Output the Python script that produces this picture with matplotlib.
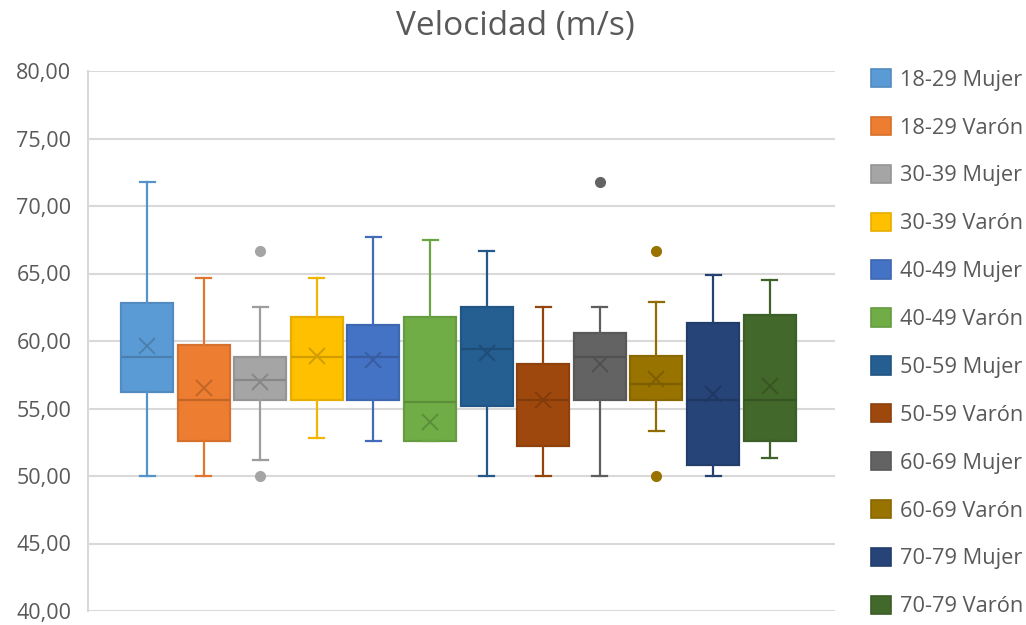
import matplotlib
matplotlib.use("Agg")
import matplotlib.pyplot as plt
from matplotlib.patches import Patch
from matplotlib.colors import to_rgb
from matplotlib.ticker import FuncFormatter, MultipleLocator

# Speed statistics per age group and sex
groups = ["18-29 Mujer", "18-29 Varón", "30-39 Mujer", "30-39 Varón",
          "40-49 Mujer", "40-49 Varón", "50-59 Mujer", "50-59 Varón",
          "60-69 Mujer", "60-69 Varón", "70-79 Mujer", "70-79 Varón"]
whisker_low = [50.0, 50.0, 51.2, 52.8, 52.6, 52.6, 50.0, 50.0, 50.0, 53.3, 50.0, 51.3]
q1 = [56.2, 52.6, 55.6, 55.6, 55.6, 52.6, 55.2, 52.2, 55.6, 55.6, 50.8, 52.6]
median = [58.8, 55.6, 57.1, 58.8, 58.8, 55.5, 59.4, 55.6, 58.8, 56.8, 55.6, 55.6]
q3 = [62.8, 59.7, 58.8, 61.8, 61.2, 61.8, 62.5, 58.3, 60.6, 58.9, 61.3, 61.9]
whisker_high = [71.8, 64.7, 62.5, 64.7, 67.7, 67.5, 66.7, 62.5, 62.5, 62.9, 64.9, 64.5]
means = [59.6, 56.5, 57.0, 58.9, 58.6, 54.0, 59.1, 55.6, 58.3, 57.2, 56.1, 56.7]
outliers = [[], [], [66.7, 50.0], [], [], [], [], [], [71.8], [66.7, 50.0], [], []]

fill_colors = ["#5B9BD5", "#ED7D31", "#A5A5A5", "#FFC000", "#4472C4", "#70AD47",
               "#255E91", "#9E480E", "#636363", "#997300", "#264478", "#43682B"]

text_color = "#595959"
grid_color = "#D9D9D9"


def darker(color, k=0.82):
    r, g, b = to_rgb(color)
    return (r * k, g * k, b * k)


plt.rcParams["font.family"] = ["Open Sans", "DejaVu Sans"]

fig = plt.figure(figsize=(10.26, 6.25), dpi=100)
ax = fig.add_axes([88 / 1026, 1 - 611 / 625, 747 / 1026, 540 / 625])

step = 56.6
box_w = 52 / step
cap_w = 15 / step

for i, name in enumerate(groups):
    stats = [dict(label=name, whislo=whisker_low[i], q1=q1[i], med=median[i],
                  q3=q3[i], whishi=whisker_high[i], mean=means[i],
                  fliers=outliers[i])]
    fc = fill_colors[i]
    dc = darker(fc)
    ax.bxp(stats, positions=[i], widths=box_w, capwidths=cap_w,
           showmeans=True, patch_artist=True,
           boxprops=dict(facecolor=fc, edgecolor=darker(fc, 0.9), linewidth=1.6),
           medianprops=dict(color=dc, linewidth=1.6),
           meanprops=dict(marker="x", markeredgecolor=dc, markersize=12,
                          markeredgewidth=1.4, linestyle="none"),
           whiskerprops=dict(color=darker(fc, 0.95), linewidth=1.6),
           capprops=dict(color=darker(fc, 0.95), linewidth=1.6),
           flierprops=dict(marker="o", markerfacecolor=fc, markeredgecolor=fc,
                           markersize=7),
           zorder=3)

ax.set_xlim(-59 / step, -59 / step + 747 / step)
ax.set_ylim(40, 80)
ax.yaxis.set_major_locator(MultipleLocator(5))
ax.yaxis.set_major_formatter(FuncFormatter(lambda v, p: f"{v:.2f}".replace(".", ",")))
ax.set_xticks([])
ax.grid(axis="y", color=grid_color, linewidth=1.5, zorder=0)
ax.set_axisbelow(True)
for side in ["top", "right", "bottom"]:
    ax.spines[side].set_visible(False)
ax.spines["left"].set_color(grid_color)
ax.spines["left"].set_linewidth(1.5)
ax.tick_params(axis="y", length=0, pad=12, labelsize=15.5, labelcolor=text_color)

fig.text(515.5 / 1026, 1 - 35 / 625, "Velocidad (m/s)", ha="center", va="baseline",
         fontsize=24, color=text_color)

handles = [Patch(facecolor=c, edgecolor=darker(c, 0.9), linewidth=1.2) for c in fill_colors]
fig.legend(handles, groups, loc="upper left", bbox_to_anchor=(871 / 1026, 1 - 69 / 625),
           frameon=False, fontsize=15.7, labelcolor=text_color,
           handlelength=0.92, handleheight=0.92, handletextpad=0.42,
           labelspacing=1.2, borderaxespad=0, borderpad=0)

fig.savefig("out.png", dpi=100)
